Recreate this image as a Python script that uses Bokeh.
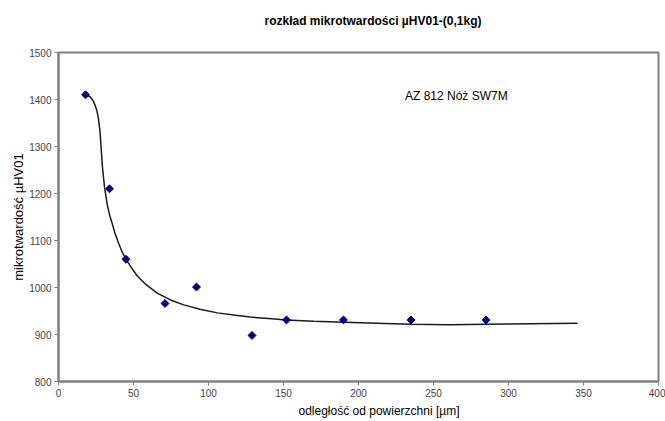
from bokeh.plotting import figure
from bokeh.models import Label, Title, FixedTicker
from bokeh.embed import file_html
from bokeh.resources import INLINE

# measured points
dist_um = [18, 34, 45, 71, 92, 129, 152, 190, 235, 285]
hardness = [1410, 1210, 1060, 966, 1001, 898, 931, 931, 931, 931]

# trend line
trend_x = [18, 21, 23, 24.5, 25.6, 26.5, 27.6, 28.4, 29.3, 30.7, 32.4, 34, 35.8, 38, 40.2,
           42.5, 45.3, 48, 52.4, 58, 65.8, 75, 83.5, 95, 106, 118, 128, 140, 152, 170,
           191, 212, 235, 261, 285, 315, 346]
trend_y = [1410, 1406, 1398, 1387, 1376, 1362, 1334, 1299, 1256, 1213, 1178, 1155, 1136,
           1112, 1093, 1075, 1059, 1045, 1025, 1007, 988, 973, 963, 953, 946, 941, 937,
           934, 931, 928, 926, 924, 922, 921, 922, 923, 924]

x_ticks = [0, 50, 100, 150, 200, 250, 300, 350, 400]
y_ticks = [800, 900, 1000, 1100, 1200, 1300, 1400, 1500]

FONT = "Liberation Sans"
GRAY = "#808080"

p = figure(width=665, height=421, x_range=(0, 400), y_range=(800, 1500),
           output_backend="svg", toolbar_location=None, title=None,
           min_border_left=58, min_border_right=7, min_border_top=52, min_border_bottom=40)
p.background_fill_color = "white"
p.border_fill_color = "white"
p.outline_line_color = GRAY
p.outline_line_width = 2
p.xgrid.visible = False
p.ygrid.visible = False

# empty spacer next to the frame, then the chart title above it
p.add_layout(Title(text=" ", text_font=FONT, text_font_size="18px", standoff=0), "above")
p.add_layout(Title(text="rozkład mikrotwardości µHV01-(0,1kg)", align="left",
                   text_font=FONT, text_font_size="12px", text_font_style="bold",
                   text_color="black", offset=206, standoff=6), "above")

for ax, ticks in ((p.xaxis, x_ticks), (p.yaxis, y_ticks)):
    ax.ticker = FixedTicker(ticks=ticks)
    ax.axis_line_color = GRAY
    ax.axis_line_width = 2
    ax.major_tick_line_color = GRAY
    ax.major_tick_out = 4
    ax.major_tick_in = 0
    ax.minor_tick_line_color = None
    ax.major_label_text_font = FONT
    ax.major_label_text_font_size = "10px"
    ax.major_label_text_color = "#444444"
    ax.axis_label_text_font = FONT
    ax.axis_label_text_font_size = "13px"
    ax.axis_label_text_font_style = "normal"
    ax.axis_label_text_color = "black"
    ax.axis_label_standoff = 0
    ax.major_label_standoff = 3

p.yaxis.axis_label = "mikrotwardość µHV01"
p.add_layout(Title(text="odległość od powierzchni  [µm]", align="left", offset=240,
                   text_font=FONT, text_font_size="12px", text_font_style="normal",
                   text_color="black", standoff=4), "below")

p.line(trend_x, trend_y, line_color="#1a1a1a", line_width=1.5)
p.scatter(dist_um, hardness, marker="square", size=5.6, angle=0.785398,
          fill_color="#000080", line_color="#000080")

p.add_layout(Label(x=231, y=1408, text="AZ 812 Nóż SW7M", text_font=FONT,
                   text_font_size="12px", text_baseline="middle", text_color="black"))

open("out.html", "w").write(file_html(p, INLINE))
